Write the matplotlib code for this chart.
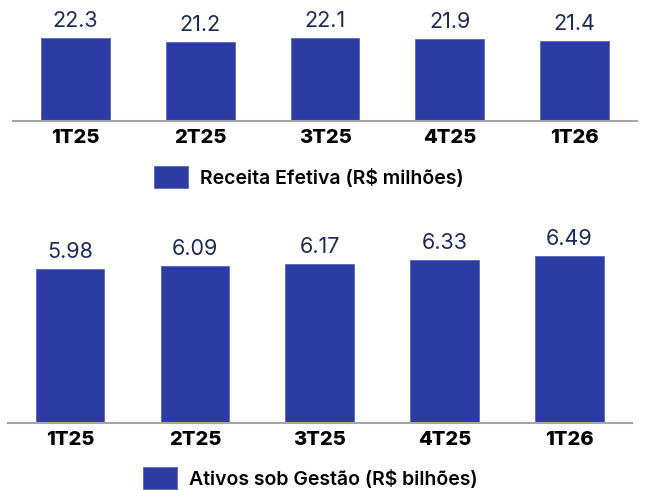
import matplotlib
matplotlib.use("Agg")
import matplotlib.pyplot as plt

categories = ["1T25", "2T25", "3T25", "4T25", "1T26"]
receita = [22.3, 21.2, 22.1, 21.9, 21.4]
ativos = [5.98, 6.09, 6.17, 6.33, 6.49]
receita_labels = ["22.3", "21.2", "22.1", "21.9", "21.4"]
ativos_labels = ["5.98", "6.09", "6.17", "6.33", "6.49"]
legend_top = "Receita Efetiva (R$ milhões)"
legend_bottom = "Ativos sob Gestão (R$ bilhões)"

plt.rcParams['font.family'] = ['Inter', 'DejaVu Sans']

BAR = "#2d3ca4"
LBL = "#1f2b57"
W, H = 649, 490
fig = plt.figure(figsize=(W / 100, H / 100), dpi=100)

def px_axes(left, right, top, bottom):
    return fig.add_axes([left / W, 1 - bottom / H, (right - left) / W, (bottom - top) / H])

def draw(ax, vals, labels, ymax, leg_text, leg_x, leg_y):
    x = list(range(len(categories)))
    bars = ax.bar(x, vals, width=0.55, color=BAR, edgecolor="#5a66b8", linewidth=0.6)
    ax.set_xlim(-0.5, len(categories) - 0.5)
    ax.set_ylim(0, ymax)
    for xi, v, t in zip(x, vals, labels):
        ax.annotate(t, (xi, v), xytext=(0, 12.3), textcoords="offset points",
                    ha="center", va="center", fontsize=15.5, color=LBL)
    for s in ["top", "right", "left"]:
        ax.spines[s].set_visible(False)
    ax.spines["bottom"].set_color("#a6a6a6")
    ax.spines["bottom"].set_linewidth(1.5)
    ax.set_yticks([])
    ax.set_xticks(x)
    ax.set_xticklabels(categories, fontsize=14.5, fontweight="heavy", color="#000000")
    ax.tick_params(axis="x", length=0, pad=6)
    fig.legend([bars], [leg_text], loc="center left",
               bbox_to_anchor=(leg_x / W, 1 - leg_y / H), frameon=False,
               handlelength=1.75, handleheight=1.3,
               handletextpad=0.6, borderpad=0, borderaxespad=0,
               prop={"size": 14, "weight": "semibold"})

ax1 = px_axes(13, 637, 0, 120.7)
draw(ax1, receita, receita_labels, 120.7 / 3.72, legend_top, 154, 177)

ax2 = px_axes(7.5, 632, 220, 422.7)
draw(ax2, ativos, ativos_labels, 202.7 / 25.67, legend_bottom, 143, 478)

fig.savefig("out.png", dpi=100)
